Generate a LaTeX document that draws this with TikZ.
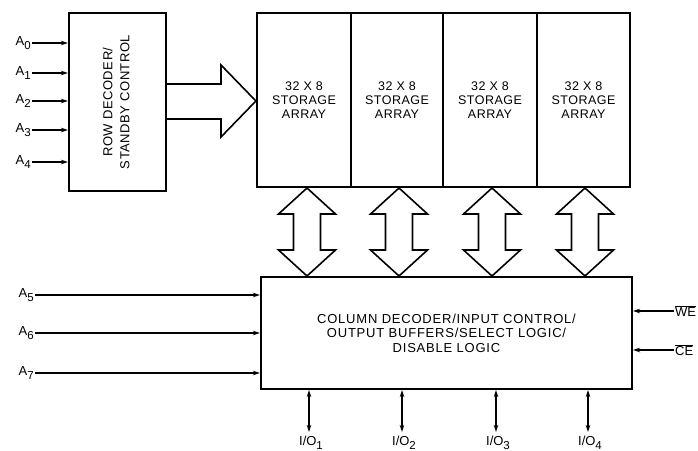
\documentclass[tikz,border=0pt]{standalone}
\usepackage{fontspec}
\setmainfont{Liberation Sans}
\newfontfamily\wideface[LetterSpace=6]{Liberation Sans}
\newfontfamily\midface[LetterSpace=4]{Liberation Sans}
\usetikzlibrary{arrows.meta,calc}
\newcommand{\mysub}[1]{\raisebox{-0.5ex}{\fontsize{11.5}{11.5}\selectfont #1}}
\begin{document}
\begin{tikzpicture}[x=1pt,y=-1pt,
  box/.style={draw,line width=2.2pt,rectangle,inner sep=0pt,align=center,font=\midface\fontsize{12.5}{14}\selectfont},
  lbl/.style={inner sep=1pt,font=\fontsize{13}{13}\selectfont},
  inarrow/.style={line width=1.2pt,-{Stealth[length=7pt,width=4.5pt]}},
  ioarrow/.style={line width=1.2pt,{Stealth[length=7pt,width=4.5pt]}-{Stealth[length=7pt,width=4.5pt]}},
  blockarrow/.style={draw,line width=1.6pt,fill=white,line join=miter}]
\useasboundingbox (0,0) rectangle (698,450);
% row decoder
\node[box,minimum width=97pt,minimum height=178pt,font=\midface\fontsize{13}{17}\selectfont] (rowdec) at (117.5,102)
  {\rotatebox{90}{\begin{tabular}{@{}c@{}}ROW DECODER/\\STANDBY CONTROL\end{tabular}}};
% storage arrays
\node[box,minimum width=94pt,minimum height=174pt] (s1) at (304,100) {32 X 8\\STORAGE\\ARRAY};
\node[box,minimum width=92pt,minimum height=174pt] (s2) at (397,100) {32 X 8\\STORAGE\\ARRAY};
\node[box,minimum width=94pt,minimum height=174pt] (s3) at (490,100) {32 X 8\\STORAGE\\ARRAY};
\node[box,minimum width=93pt,minimum height=174pt] (s4) at (583.5,100) {32 X 8\\STORAGE\\ARRAY};
% column decoder
\node[box,minimum width=371pt,minimum height=112pt,font=\wideface\fontsize{13}{14.5}\selectfont] (col) at (446.5,333)
  {COLUMN DECODER/INPUT CONTROL/\\OUTPUT BUFFERS/SELECT LOGIC/\\DISABLE LOGIC};
% address inputs A0-A4
\foreach \i/\y in {0/43,1/73,2/101,3/130,4/162}{
  \node[lbl,anchor=east] (a\i) at (32,\y) {A\mysub{\i}};
  \draw[inarrow] (a\i.east) -- (a\i.east -| rowdec.west);
}
% address inputs A5-A7
\foreach \i/\y in {5/295,6/333,7/373}{
  \node[lbl,anchor=east] (a\i) at (35,\y) {A\mysub{\i}};
  \draw[inarrow] (a\i.east) -- (a\i.east -| col.west);
}
% WE, CE
\node[lbl,anchor=west] (we) at (674,311) {$\overline{\mbox{WE}}$};
\node[lbl,anchor=west] (ce) at (674,350) {$\overline{\mbox{CE}}$};
\draw[inarrow] (we.west) -- (we.west -| col.east);
\draw[inarrow] (ce.west) -- (ce.west -| col.east);
% I/O
\foreach \i/\x in {1/309,2/402,3/496,4/588}{
  \coordinate (io\i) at (\x,432);
  \node[lbl,anchor=north] (iol\i) at ($(io\i)+(2,3)$) {I/O\mysub{\i}};
  \draw[ioarrow] (io\i |- col.south) -- (io\i);
}
% block arrow row decoder -> storage
\draw[blockarrow] (rowdec.east |- 0,84) -- (221,84) -- (221,65) -- (s1.west |- 0,101)
  -- (221,137) -- (221,119) -- (rowdec.east |- 0,119);
% double block arrows storage <-> column
\foreach \x in {307,399,492,585}{
  \draw[blockarrow] (\x,188) -- (\x+28.5,214) -- (\x+13.5,214) -- (\x+13.5,250) -- (\x+28.5,250)
    -- (\x,276) -- (\x-28.5,250) -- (\x-13.5,250) -- (\x-13.5,214) -- (\x-28.5,214) -- cycle;
}
\end{tikzpicture}
\end{document}
